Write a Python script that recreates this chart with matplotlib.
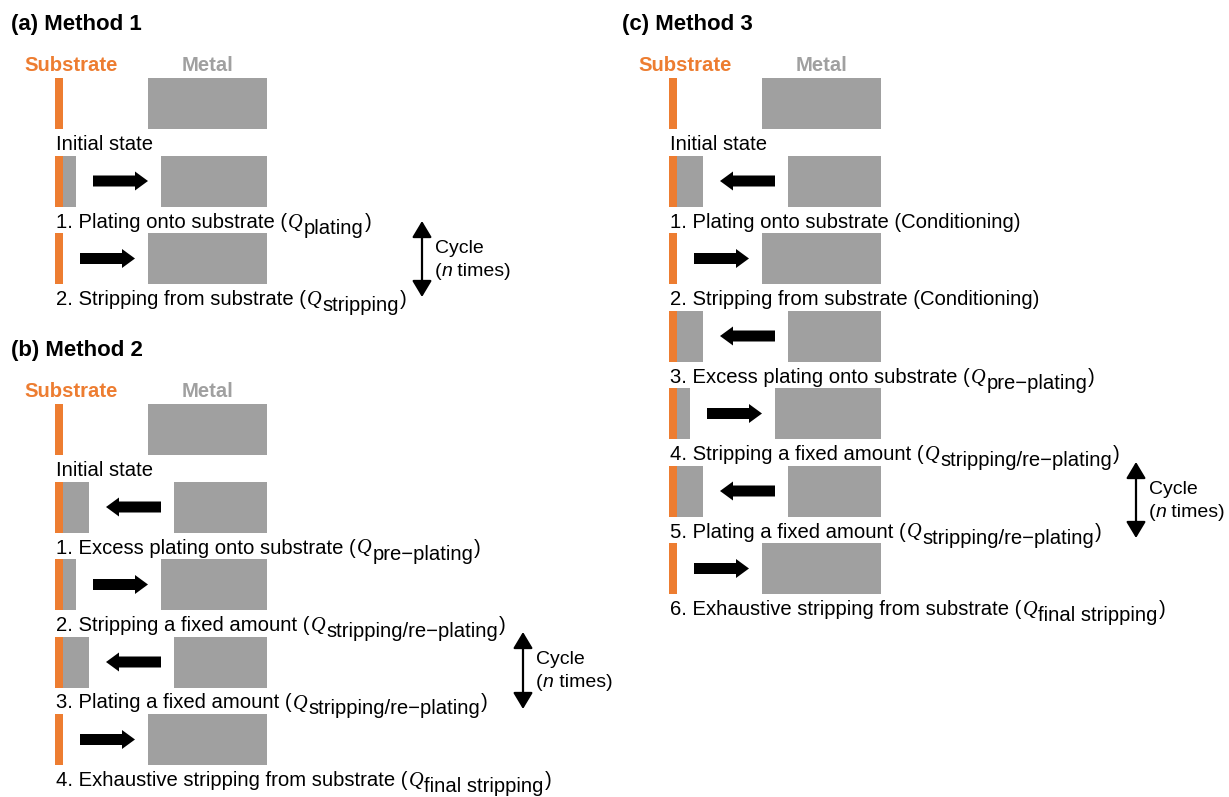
import matplotlib
matplotlib.use("Agg")
import matplotlib.pyplot as plt
from matplotlib.patches import Rectangle, FancyArrowPatch

# ---------------- data ----------------
panel_titles = ["(a) Method 1", "(b) Method 2", "(c) Method 3"]
material_labels = ["Substrate", "Metal"]

# deposit level on the substrate for each step (0 none, 1 thin, 2 thick)
deposit_a = [0, 1, 0]
deposit_b = [0, 2, 1, 2, 0]
deposit_c = [0, 2, 0, 2, 1, 2, 0]

# direction of metal transfer arrow (0 none, 1 to the right, -1 to the left)
flow_a = [0, 1, 1]
flow_b = [0, -1, 1, -1, 1]
flow_c = [0, -1, 1, -1, 1, -1, 1]

steps_a = ["Initial state",
           "1. Plating onto substrate (",
           "2. Stripping from substrate ("]
charge_a = [None, "plating", "stripping"]

steps_b = ["Initial state",
           "1. Excess plating onto substrate (",
           "2. Stripping a fixed amount (",
           "3. Plating a fixed amount (",
           "4. Exhaustive stripping from substrate ("]
charge_b = [None, "pre\u2212plating", "stripping/re\u2212plating",
            "stripping/re\u2212plating", "final stripping"]

steps_c = ["Initial state",
           "1. Plating onto substrate (Conditioning)",
           "2. Stripping from substrate (Conditioning)",
           "3. Excess plating onto substrate (",
           "4. Stripping a fixed amount (",
           "5. Plating a fixed amount (",
           "6. Exhaustive stripping from substrate ("]
charge_c = [None, None, None, "pre\u2212plating", "stripping/re\u2212plating",
            "stripping/re\u2212plating", "final stripping"]

cycle_words = ["Cycle", "n", " times)"]

# ---------------- layout / style ----------------
ORANGE = "#ED7D31"
GRAY = "#A0A0A0"
FONT = "Liberation Sans"
FS = 14.6

fig = plt.figure(figsize=(12.29, 7.97), dpi=100)
ax = fig.add_axes([0, 0, 1, 1])
ax.set_xlim(0, 1229)
ax.set_ylim(797, 0)
ax.axis("off")
renderer = fig.canvas.get_renderer()

UNIT = 13          # deposit thickness per level
SUB_W = 8          # substrate bar width
ROW_H = 51
PITCH = 77.5
METAL_RIGHT = 212


def compose(x, y, pieces, gap=1.0):
    for s, kw, dy in pieces:
        t = ax.text(x, y + dy, s, va="baseline", ha="left", **kw)
        x += t.get_window_extent(renderer=renderer).width + gap
    return x


normal = dict(fontsize=FS, family=FONT, color="black")
qstyle = dict(fontsize=FS, family="Liberation Serif", style="italic", color="black")


def panel(title, tx, x0, y0, deposits, flows, steps, charges):
    ax.text(tx, y0 - 48, title, fontsize=16, family=FONT, weight="bold",
            va="baseline", ha="left")
    ax.text(x0 - 31, y0 - 7, material_labels[0], fontsize=FS, family=FONT,
            weight="bold", color=ORANGE, va="baseline", ha="left")
    ax.text(x0 + 152.5, y0 - 7, material_labels[1], fontsize=FS, family=FONT,
            weight="bold", color=GRAY, va="baseline", ha="center")
    for i, (d, f, s, q) in enumerate(zip(deposits, flows, steps, charges)):
        top = y0 + i * PITCH
        ax.add_patch(Rectangle((x0, top), SUB_W, ROW_H, color=ORANGE, lw=0))
        dep_right = x0 + SUB_W + d * UNIT
        if d:
            ax.add_patch(Rectangle((x0 + SUB_W, top), d * UNIT, ROW_H,
                                   color=GRAY, lw=0))
        mleft = dep_right + 85
        ax.add_patch(Rectangle((mleft, top), x0 + METAL_RIGHT - mleft, ROW_H,
                               color=GRAY, lw=0))
        cy = top + ROW_H / 2
        if f != 0:
            a0, a1 = dep_right + 17, dep_right + 72
            start, end = (a0, a1) if f > 0 else (a1, a0)
            ax.arrow(start, cy, end - start, 0, width=11, head_width=19,
                     head_length=13, length_includes_head=True,
                     color="black", lw=0)
        base = top + ROW_H + 21
        pieces = [(s, normal, 0)]
        if q is not None:
            pieces += [("Q", qstyle, 0), (q, normal, 6), (")", normal, 0)]
        compose(x0 + 1, base, pieces)


panel(panel_titles[0], 11, 55, 78, deposit_a, flow_a, steps_a, charge_a)
panel(panel_titles[1], 11, 55, 404, deposit_b, flow_b, steps_b, charge_b)
panel(panel_titles[2], 622, 669, 78, deposit_c, flow_c, steps_c, charge_c)

# cycle arrows
cyc = dict(fontsize=14, family=FONT, color="black")
cycle_layout = [(422, 221, 297), (523, 632, 709), (1136, 462, 538)]
for cx, ctop, cbot in cycle_layout:
    arr = FancyArrowPatch((cx, cbot), (cx, ctop),
                          arrowstyle="<|-|>,head_length=0.5,head_width=0.3",
                          mutation_scale=20, lw=1.6, color="black",
                          shrinkA=0, shrinkB=0)
    ax.add_patch(arr)
    ax.text(cx + 13, ctop + 32, cycle_words[0], va="baseline", ha="left", **cyc)
    compose(cx + 13, ctop + 55,
            [("(", cyc, 0), (cycle_words[1], dict(cyc, style="italic"), 0),
             (cycle_words[2], cyc, 0)], gap=0.0)

fig.savefig("out.png", dpi=100)
